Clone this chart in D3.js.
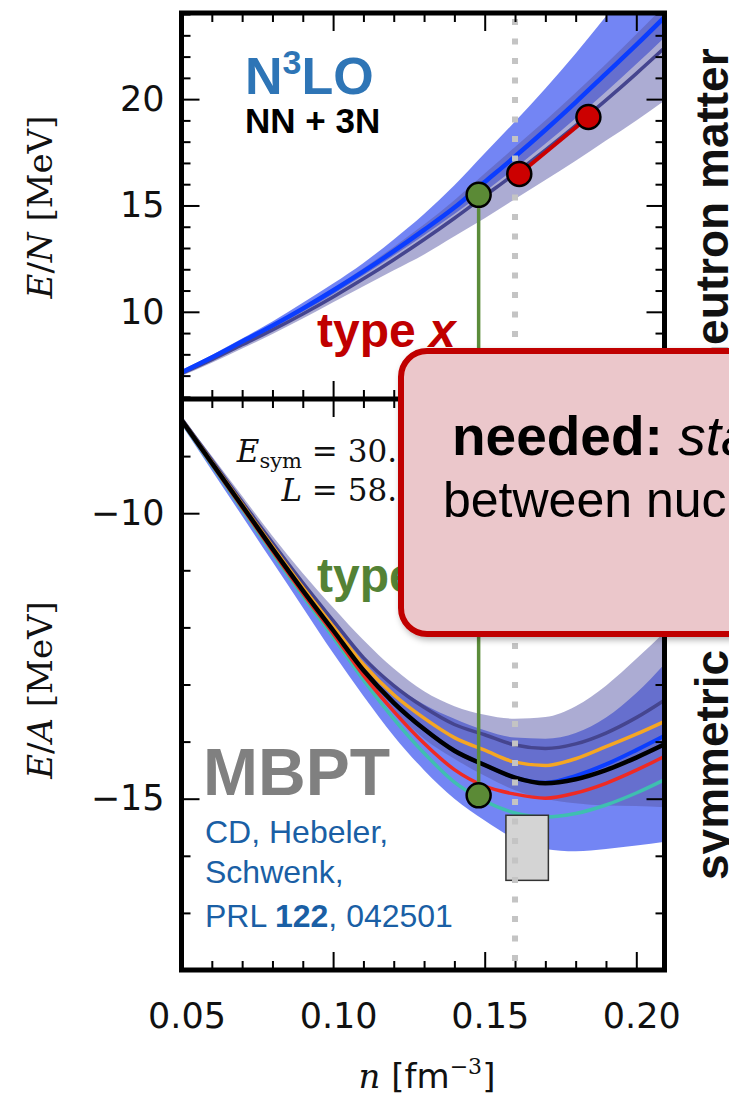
<!DOCTYPE html>
<html>
<head>
<meta charset="utf-8">
<title>Neutron matter and symmetric matter, N3LO NN + 3N</title>
<script src="https://cdn.jsdelivr.net/npm/d3@7"></script>
<style>
  body { margin: 0; background: #fff; }
  svg { display: block; }
</style>
</head>
<body>
<svg id="chart"></svg>
<script>
// density grid, fm^-3
let nGrid = [0.05, 0.06, 0.07, 0.08, 0.09, 0.10, 0.11, 0.12, 0.13, 0.14, 0.15, 0.16, 0.17, 0.18, 0.19, 0.20, 0.21];

// neutron matter E/N (MeV)
let pnmBlue    = [7.15, 7.85, 8.6, 9.35, 10.15, 11.0, 11.9, 12.85, 13.85, 14.9, 16.1, 17.3, 18.55, 19.85, 21.2, 22.55, 23.95];
let pnmSlate   = [7.1, 7.75, 8.45, 9.15, 9.9, 10.7, 11.55, 12.45, 13.4, 14.4, 15.45, 16.5, 17.6, 18.75, 19.95, 21.2, 22.5];
let pnmBlueLo  = [7.08, 7.75, 8.47, 9.22, 10.0, 10.83, 11.72, 12.65, 13.6, 14.6, 15.65, 16.75, 17.9, 19.1, 20.35, 21.65, 23.0];
let pnmBlueHi  = [7.25, 7.97, 8.74, 9.55, 10.42, 11.33, 12.3, 13.4, 14.6, 15.95, 17.45, 18.95, 20.5, 22.15, 23.9, 25.7, 27.5];
let pnmSlateLo = [6.98, 7.6, 8.27, 8.96, 9.68, 10.45, 11.2, 11.95, 12.7, 13.55, 14.4, 15.3, 16.2, 17.1, 18.05, 19.0, 20.0];
let pnmSlateHi = [7.25, 7.93, 8.65, 9.42, 10.25, 11.12, 12.05, 13.05, 14.1, 15.25, 16.5, 17.75, 19.0, 20.3, 21.65, 23.05, 24.5];

// symmetric matter E/A (MeV)
let snmBlack  = [-8.37, -9.12, -9.87, -10.62, -11.35, -12.05, -12.75, -13.32, -13.78, -14.16, -14.41, -14.63, -14.73, -14.66, -14.5, -14.28, -14.03];
let snmBlue   = [-8.37, -9.12, -9.87, -10.62, -11.35, -12.05, -12.75, -13.32, -13.78, -14.16, -14.41, -14.63, -14.72, -14.6, -14.4, -14.15, -13.88];
let snmSlate  = [-8.34, -9.07, -9.80, -10.52, -11.22, -11.88, -12.53, -13.02, -13.40, -13.70, -13.88, -14.06, -14.12, -14.04, -13.85, -13.58, -13.25];
let snmOrange = [-8.36, -9.10, -9.84, -10.58, -11.30, -11.98, -12.65, -13.18, -13.59, -13.93, -14.15, -14.36, -14.42, -14.30, -14.09, -13.87, -13.63];
let snmRed    = [-8.38, -9.14, -9.90, -10.66, -11.40, -12.11, -12.84, -13.47, -14.03, -14.49, -14.78, -14.92, -14.99, -14.90, -14.73, -14.50, -14.24];
let snmTeal   = [-8.39, -9.16, -9.93, -10.70, -11.45, -12.17, -12.92, -13.6, -14.20, -14.71, -15.04, -15.25, -15.32, -15.26, -15.11, -14.90, -14.65];
let snmBlueLo = [-8.45, -9.25, -10.05, -10.85, -11.65, -12.45, -13.2, -13.9, -14.5, -15.0, -15.38, -15.7, -15.88, -15.92, -15.88, -15.82, -15.75];
let snmBlueHi = [-8.33, -9.07, -9.80, -10.52, -11.22, -11.9, -12.52, -13.0, -13.35, -13.6, -13.8, -13.93, -13.95, -13.85, -13.58, -13.15, -12.6];
let snmSlateLo = [-8.40, -9.18, -9.95, -10.72, -11.45, -12.15, -12.87, -13.45, -13.95, -14.3, -14.6, -14.85, -15.0, -15.08, -15.12, -15.13, -15.15];
let snmSlateHi = [-8.30, -9.0, -9.70, -10.40, -11.05, -11.65, -12.22, -12.72, -13.12, -13.38, -13.53, -13.6, -13.57, -13.38, -13.02, -12.55, -12.05];

// highlighted points
let typeXPoints = [{ n: 0.1614, e: 16.48 }, { n: 0.1842, e: 19.16 }];
let typeYTop = { n: 0.148, e: 15.5 };
let typeYBot = { n: 0.148, e: -14.94 };
// empirical saturation region
let satN = [0.157, 0.171], satE = [-16.43, -15.29];
let n0 = 0.16;

// ticks
let xMajor = [0.05, 0.10, 0.15, 0.20];
let xMinor = [0.06, 0.07, 0.08, 0.09, 0.11, 0.12, 0.13, 0.14, 0.16, 0.17, 0.18, 0.19];
let yTopMajor = [10, 15, 20];
let yTopMinor = [6, 7, 8, 9, 11, 12, 13, 14, 16, 17, 18, 19, 21, 22, 23, 24];
let yBotMajor = [-10, -15];
let yBotMinor = [-9, -11, -12, -13, -14, -16, -17];

let W = 729, H = 1097;
let frame = { left: 181.5, right: 664.5, top: 13, mid: 399, bottom: 970 };

let svg = d3.select("#chart").attr("width", W).attr("height", H)
    .style("font-family", "'Liberation Sans', Arial, sans-serif");

let x = d3.scaleLinear().domain([0.05, 0.2093]).range([frame.left, frame.right]);
let yTop = d3.scaleLinear().domain([5.9, 24.05]).range([frame.mid, frame.top]);
let yBot = d3.scaleLinear().domain([-18, -8]).range([frame.bottom, frame.mid]);

let defs = svg.append("defs");
defs.append("clipPath").attr("id", "clipTop").append("rect")
    .attr("x", frame.left).attr("y", frame.top)
    .attr("width", frame.right - frame.left).attr("height", frame.mid - frame.top);
defs.append("clipPath").attr("id", "clipBot").append("rect")
    .attr("x", frame.left).attr("y", frame.mid)
    .attr("width", frame.right - frame.left).attr("height", frame.bottom - frame.mid);
let shadow = defs.append("filter").attr("id", "shadow")
    .attr("x", "-10%").attr("y", "-10%").attr("width", "130%").attr("height", "130%");
shadow.append("feDropShadow").attr("dx", 2).attr("dy", 3).attr("stdDeviation", 3)
    .attr("flood-color", "#000").attr("flood-opacity", 0.3);

function band(g, y, lo, hi, fill, op) {
    let area = d3.area().x((d, i) => x(nGrid[i])).y0((d, i) => y(lo[i])).y1((d, i) => y(hi[i]))
        .curve(d3.curveMonotoneX);
    g.append("path").attr("d", area(nGrid)).attr("fill", fill).attr("fill-opacity", op);
}
function curve(g, y, vals, color, w) {
    let line = d3.line().x((d, i) => x(nGrid[i])).y(d => y(d)).curve(d3.curveMonotoneX);
    g.append("path").attr("d", line(vals)).attr("fill", "none")
        .attr("stroke", color).attr("stroke-width", w).attr("stroke-linejoin", "round");
}

// top panel: neutron matter
let gTop = svg.append("g").attr("clip-path", "url(#clipTop)");
band(gTop, yTop, pnmBlueLo, pnmBlueHi, "#5a70f2", 0.85);
band(gTop, yTop, pnmSlateLo, pnmSlateHi, "#5a5aa8", 0.5);
curve(gTop, yTop, pnmSlate, "#45458f", 3.5);
curve(gTop, yTop, pnmBlue, "#0b3dff", 4.5);

// bottom panel: symmetric matter
let gBot = svg.append("g").attr("clip-path", "url(#clipBot)");
band(gBot, yBot, snmBlueLo, snmBlueHi, "#5a70f2", 0.85);
band(gBot, yBot, snmSlateLo, snmSlateHi, "#5a5aa8", 0.5);
curve(gBot, yBot, snmSlate, "#45458f", 3.5);
curve(gBot, yBot, snmBlue, "#0b3dff", 4);
curve(gBot, yBot, snmOrange, "#f5a623", 3.5);
curve(gBot, yBot, snmTeal, "#3fbfb0", 3.5);
curve(gBot, yBot, snmRed, "#ee2a24", 3.5);
curve(gBot, yBot, snmBlack, "#000", 4.5);

gBot.append("rect")
    .attr("x", x(satN[0])).attr("y", yBot(satE[1]))
    .attr("width", x(satN[1]) - x(satN[0])).attr("height", yBot(satE[0]) - yBot(satE[1]))
    .attr("fill", "#d4d4d4").attr("stroke", "#333").attr("stroke-width", 1.5);

// saturation density marker
svg.append("line")
    .attr("x1", x(n0)).attr("x2", x(n0)).attr("y1", frame.top + 6).attr("y2", frame.bottom - 6)
    .attr("stroke", "#c4c4c4").attr("stroke-width", 6).attr("stroke-dasharray", "6,13.5");

// type y connector and type x segment
svg.append("line")
    .attr("x1", x(typeYTop.n)).attr("x2", x(typeYBot.n))
    .attr("y1", yTop(typeYTop.e)).attr("y2", yBot(typeYBot.e))
    .attr("stroke", "#5b8c3a").attr("stroke-width", 3.5);
svg.append("line")
    .attr("x1", x(typeXPoints[0].n)).attr("x2", x(typeXPoints[1].n))
    .attr("y1", yTop(typeXPoints[0].e)).attr("y2", yTop(typeXPoints[1].e))
    .attr("stroke", "#cc0000").attr("stroke-width", 4);

svg.selectAll(".ptx").data(typeXPoints).enter().append("circle")
    .attr("cx", d => x(d.n)).attr("cy", d => yTop(d.e)).attr("r", 12)
    .attr("fill", "#cc0000").attr("stroke", "#000").attr("stroke-width", 2.5);
svg.append("circle").attr("cx", x(typeYTop.n)).attr("cy", yTop(typeYTop.e)).attr("r", 12)
    .attr("fill", "#5b8a36").attr("stroke", "#000").attr("stroke-width", 2.5);
svg.append("circle").attr("cx", x(typeYBot.n)).attr("cy", yBot(typeYBot.e)).attr("r", 12)
    .attr("fill", "#5b8a36").attr("stroke", "#000").attr("stroke-width", 2.5);

// frame and ticks
function ticks(axis, scale, vals, size, tx, ty) {
    svg.append("g").attr("transform", `translate(${tx},${ty})`)
        .call(axis(scale).tickValues(vals).tickSize(size).tickFormat(""))
        .call(g => g.select(".domain").remove())
        .selectAll("line").attr("stroke", "#000").attr("stroke-width", 2);
}
[[xMajor, 18], [xMinor, 9]].forEach(([v, s]) => {
    ticks(d3.axisBottom, x, v, s, 0, frame.top);
    ticks(d3.axisTop, x, v, s, 0, frame.mid);
    ticks(d3.axisBottom, x, v, s, 0, frame.mid);
    ticks(d3.axisTop, x, v, s, 0, frame.bottom);
});
[[yTopMajor, 18], [yTopMinor, 9]].forEach(([v, s]) => {
    ticks(d3.axisRight, yTop, v, s, frame.left, 0);
    ticks(d3.axisLeft, yTop, v, s, frame.right, 0);
});
[[yBotMajor, 18], [yBotMinor, 9]].forEach(([v, s]) => {
    ticks(d3.axisRight, yBot, v, s, frame.left, 0);
    ticks(d3.axisLeft, yBot, v, s, frame.right, 0);
});

svg.append("rect").attr("x", frame.left).attr("y", frame.top)
    .attr("width", frame.right - frame.left).attr("height", frame.bottom - frame.top)
    .attr("fill", "none").attr("stroke", "#000").attr("stroke-width", 5);
svg.append("line").attr("x1", frame.left).attr("x2", frame.right)
    .attr("y1", frame.mid).attr("y2", frame.mid).attr("stroke", "#000").attr("stroke-width", 5);

// tick labels
function labels(axis, scale, vals, fmt, pad, tx, ty, dx) {
    let g = svg.append("g").attr("transform", `translate(${tx},${ty})`)
        .call(axis(scale).tickValues(vals).tickSize(0).tickPadding(pad).tickFormat(fmt));
    g.select(".domain").remove();
    g.selectAll("text").attr("font-family", "'DejaVu Sans', sans-serif")
        .attr("font-size", 35).attr("fill", "#111").attr("dx", dx);
}
labels(d3.axisLeft, yTop, yTopMajor, d3.format("d"), 17, frame.left, 0, 0);
labels(d3.axisLeft, yBot, yBotMajor, d3.format("d"), 17, frame.left, 0, 0);
labels(d3.axisBottom, x, xMajor, d3.format(".2f"), 33, 0, frame.bottom, 5);

// axis titles
function yTitle(cy, sym) {
    let t = svg.append("text").attr("transform", `translate(52,${cy}) rotate(-90)`)
        .attr("text-anchor", "middle").attr("font-family", "'DejaVu Serif', serif")
        .attr("font-size", 34).attr("fill", "#111");
    t.append("tspan").attr("font-style", "italic").text("E");
    t.append("tspan").text("/");
    t.append("tspan").attr("font-style", "italic").text(sym);
    t.append("tspan").text(" [MeV]");
}
yTitle(207, "N");
yTitle(690, "A");

let xt = svg.append("text").attr("x", 427).attr("y", 1088).attr("text-anchor", "middle")
    .attr("font-size", 34).attr("fill", "#111");
xt.append("tspan").attr("font-family", "'DejaVu Serif', serif").attr("font-style", "italic").text("n");
xt.append("tspan").attr("font-family", "'DejaVu Sans', sans-serif").text(" [fm");
xt.append("tspan").attr("font-family", "'DejaVu Serif', serif").attr("font-size", 22).attr("dy", -14).text("−3");
xt.append("tspan").attr("font-family", "'DejaVu Sans', sans-serif").attr("dy", 14).text("]");

// annotations
let n3lo = svg.append("text").attr("x", 245).attr("y", 94)
    .attr("font-size", 52).attr("font-weight", "bold").attr("fill", "#2e75b6");
n3lo.append("tspan").text("N");
n3lo.append("tspan").attr("font-size", 34).attr("dy", -20).text("3");
n3lo.append("tspan").attr("dy", 20).text("LO");
svg.append("text").attr("x", 245).attr("y", 133).attr("font-size", 35)
    .attr("font-weight", "bold").attr("fill", "#000").text("NN + 3N");

let typeX = svg.append("text").attr("x", 317).attr("y", 347).attr("font-size", 48)
    .attr("font-weight", "bold").attr("fill", "#c00000");
typeX.append("tspan").text("type ");
typeX.append("tspan").attr("font-style", "italic").text("x");

svg.append("text").attr("x", 317).attr("y", 592).attr("font-size", 48)
    .attr("font-weight", "bold").attr("fill", "#548235").text("type y");

let es = svg.append("text").attr("x", 397).attr("y", 462).attr("text-anchor", "end")
    .attr("font-family", "'DejaVu Serif', serif").attr("font-size", 31).attr("fill", "#111");
es.append("tspan").attr("font-style", "italic").text("E");
es.append("tspan").attr("font-size", 21).attr("dy", 6).text("sym");
es.append("tspan").attr("dy", -6).text(" = 30.");
let el = svg.append("text").attr("x", 397).attr("y", 501).attr("text-anchor", "end")
    .attr("font-family", "'DejaVu Serif', serif").attr("font-size", 31).attr("fill", "#111");
el.append("tspan").attr("font-style", "italic").text("L");
el.append("tspan").text(" = 58.");

svg.append("text").attr("x", 203).attr("y", 795).attr("font-size", 66)
    .attr("font-weight", "bold").attr("fill", "#808080").text("MBPT");
let refLines = ["CD, Hebeler,", "Schwenk,"];
svg.selectAll(".ref").data(refLines).enter().append("text")
    .attr("x", 205).attr("y", (d, i) => 843 + i * 40)
    .attr("font-size", 32).attr("fill", "#1a5fa5").text(d => d);
let prl = svg.append("text").attr("x", 205).attr("y", 927).attr("font-size", 32).attr("fill", "#1a5fa5");
prl.append("tspan").text("PRL ");
prl.append("tspan").attr("font-weight", "bold").text("122");
prl.append("tspan").text(", 042501");

// side labels
svg.append("text").attr("transform", "translate(728,373) rotate(-90)")
    .attr("font-size", 46).attr("font-weight", "bold").attr("fill", "#111").text("neutron matter");
svg.append("text").attr("transform", "translate(728,880) rotate(-90)")
    .attr("font-size", 46).attr("font-weight", "bold").attr("fill", "#111").text("symmetric matter");

// overlay box
svg.append("rect").attr("x", 401).attr("y", 351).attr("width", 380).attr("height", 283)
    .attr("rx", 26).attr("ry", 26)
    .attr("fill", "#ebc7cb").attr("stroke", "#c00000").attr("stroke-width", 6)
    .attr("filter", "url(#shadow)");
let nd = svg.append("text").attr("x", 452).attr("y", 455).attr("font-size", 55).attr("fill", "#000");
nd.append("tspan").attr("font-weight", "bold").text("needed: ");
nd.append("tspan").attr("font-style", "italic").text("stable");
svg.append("text").attr("x", 443).attr("y", 517).attr("font-size", 50).attr("fill", "#000")
    .text("between nuclei");
</script>
</body>
</html>
